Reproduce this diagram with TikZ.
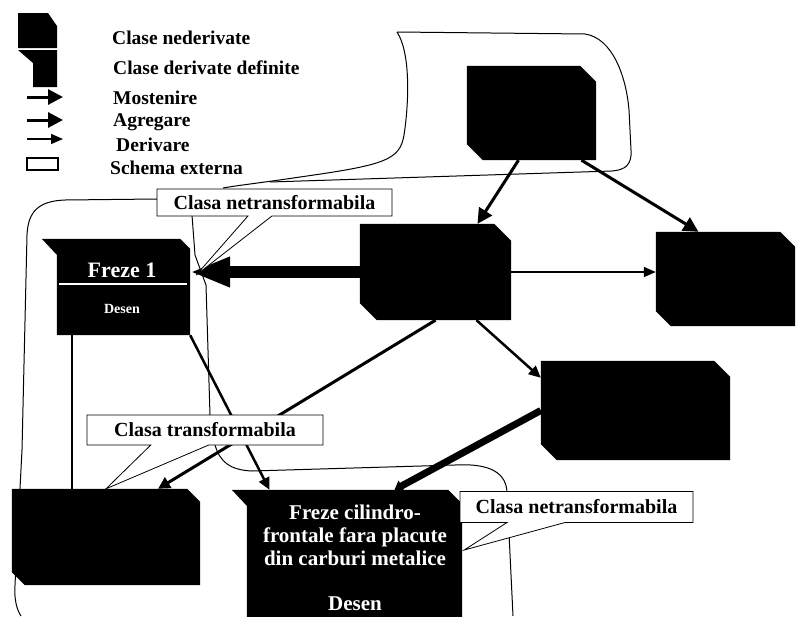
\documentclass[tikz,border=0pt]{standalone}
\usepackage{fontspec}
\setmainfont{Liberation Serif}
\usetikzlibrary{arrows.meta,shapes.callouts,calc,positioning}

% black class box, chamfered top right and bottom left
\newcommand{\clsfill}[2]{%
  \fill (#1.north west) -- ($(#1.north east)+(-#2,0)$) -- ($(#1.north east)+(0,#2)$)
    -- (#1.south east) -- ($(#1.south west)+(#2,0)$) -- ($(#1.south west)+(0,-#2)$) -- cycle;}
% same, chamfered top right only, with a lip on the top left
\newcommand{\clsfillne}[2]{%
  \fill ($(#1.north west)+(-15,0)$) -- ($(#1.north east)+(-#2,0)$) -- ($(#1.north east)+(0,#2)$)
    -- (#1.south east) -- (#1.south west) -- ($(#1.north west)+(0,16)$) -- cycle;}

\begin{document}
\begin{tikzpicture}[x=1pt, y=-1pt,
  cls/.style={rectangle, inner sep=0pt},
  ext/.style={draw, line width=1pt},
  inh/.style={line width=3pt, -{Triangle[length=15pt,width=15pt]}},
  der/.style={line width=1.6pt, -{Triangle[length=12pt,width=10pt]}},
  agr/.style={line width=12pt, -{Triangle[length=40pt,width=28pt]}},
  agrthin/.style={line width=7pt, -{Triangle[length=8pt,width=12pt]}},
  lgtxt/.style={anchor=west, font=\bfseries\fontsize{19.5}{21}\selectfont, inner sep=0pt},
  wtxt/.style={text=white, font=\bfseries\fontsize{21}{23}\selectfont, align=center, inner sep=0pt},
  note/.style={rectangle callout, draw, fill=white, line width=0.8pt,
    font=\bfseries\fontsize{20}{22}\selectfont, inner sep=0pt},
]
\useasboundingbox (0,0) rectangle (798,616);

% legend
\fill (18,13) -- (48,13) -- (57,26) -- (57,48) -- (18,48) -- cycle;
\fill (18,50) -- (57,50) -- (57,87) -- (33,87) -- (33,63) -- cycle;
\node[lgtxt] (lg1) at (112,38) {Clase nederivate};
\node[lgtxt] (lg2) at (113,68) {Clase derivate definite};
\node[lgtxt] (lg3) at (113,98) {Mostenire};
\node[lgtxt] (lg4) at (113,122) {Agregare};
\node[lgtxt] (lg5) at (116,145) {Derivare};
\node[lgtxt] (lg6) at (110,168) {Schema externa};
\coordinate (m0) at (27,97);  \coordinate (m1) at (63,97);
\coordinate (a0) at (27,120); \coordinate (a1) at (63,120);
\coordinate (d0) at (27,139); \coordinate (d1) at (63,139);
\draw[inh] (m0) -- (m1);
\draw[inh] (a0) -- (a1);
\draw[der] (d0) -- (d1);
\draw[line width=1.2pt] (27,158) rectangle (58,170);

% schema externa outlines
\draw[ext] (397,32) -- (585,34) .. controls (612,38) and (626,75) .. (629,110) -- (631,150)
  .. controls (632,164) and (626,170) .. (612,171) -- (270,182);
\draw[ext] (397,32) .. controls (412,55) and (408,110) .. (404,135)
  .. controls (400,160) and (385,165) .. (300,177) .. controls (260,183) and (240,185) .. (223,188);
\draw[ext] (157,199) -- (65,200) .. controls (38,201) and (28,212) .. (27,235) -- (22,450)
  -- (15,585) .. controls (14,600) and (17,610) .. (21,616);
\draw[ext] (192,215) -- (195,255) -- (206,285) -- (210,415);
\draw[ext] (215,445) .. controls (220,462) and (230,470) .. (252,471) -- (455,465)
  .. controls (492,463) and (506,474) .. (507,492) -- (513,616);

% classes
\node[cls, minimum width=129pt, minimum height=94pt] (top) at (531.5,113) {};
\node[cls, minimum width=151pt, minimum height=96pt] (mid) at (435.5,272) {};
\node[cls, minimum width=139pt, minimum height=94pt] (right) at (725.5,279) {};
\node[cls, minimum width=189pt, minimum height=99pt] (rbot) at (635.5,410.5) {};
\node[cls, minimum width=188pt, minimum height=96pt] (blft) at (106,537) {};
\node[cls, minimum width=133pt, minimum height=96pt] (f1) at (123.5,287) {};
\node[cls, minimum width=215pt, minimum height=140pt] (bc) at (354.5,560) {};
\clsfill{top}{16}
\clsfill{mid}{17}
\clsfill{right}{15}
\clsfill{rbot}{16}
\clsfill{blft}{13}
\clsfillne{f1}{10}
\clsfillne{bc}{14}

\draw[white, line width=1.5pt] (59,284) -- (187,284);
\node[wtxt, font=\bfseries\fontsize{22}{24}\selectfont] (f1name) at (122,270) {Freze 1};
\node[wtxt, font=\bfseries\fontsize{14}{16}\selectfont] (f1desen) at (122,309) {Desen};
\node[wtxt, anchor=north] (bctxt) at (355,505) {Freze cilindro-\\frontale fara placute\\din carburi metalice};
\node[wtxt] (bcdesen) at (355,604) {Desen};

% relations
\draw[inh] ([xshift=-13pt]top.south) -- ([xshift=42pt]mid.north);
\draw[inh] ([xshift=50pt]top.south) -- ([xshift=-27pt]right.north);
\draw[der] (mid.east) -- (mid.east -| right.west);
\draw[agr] (mid.west) -- (mid.west -| f1.east);
\draw[line width=3pt, -{Triangle[length=12pt,width=12pt]}] (mid.south) -- ([xshift=52pt]blft.north);
\draw[line width=2.5pt, -{Triangle[length=12pt,width=11pt]}] ([xshift=41pt]mid.south) -- ([yshift=-17pt]rbot.north west);
\draw[agrthin] (rbot.west) -- ([xshift=40pt]bc.north);
\draw[line width=2.5pt, -{Triangle[length=12pt,width=11pt]}] (f1.south east) -- ([xshift=-85pt]bc.north);
\coordinate (f1l) at ($(f1.south west)+(15,0)$);
\draw[line width=2pt] (f1l) -- (f1l |- blft.north);

% notes
\node[note, minimum width=235pt, minimum height=27pt, callout pointer width=24pt,
  callout absolute pointer={($(f1.east)+(6,-12)$)}] (n1) at (274.5,202.5) {Clasa netransformabila};
\node[note, minimum width=236pt, minimum height=30pt, callout pointer width=58pt,
  callout absolute pointer={(blft.north)}] (n2) at (205,430) {Clasa transformabila};
\node[note, minimum width=233pt, minimum height=31pt, callout pointer width=58pt,
  callout absolute pointer={($(bc.east)+(2,-10)$)}] (n3) at (576.5,507) {Clasa netransformabila};
\end{tikzpicture}
\end{document}
